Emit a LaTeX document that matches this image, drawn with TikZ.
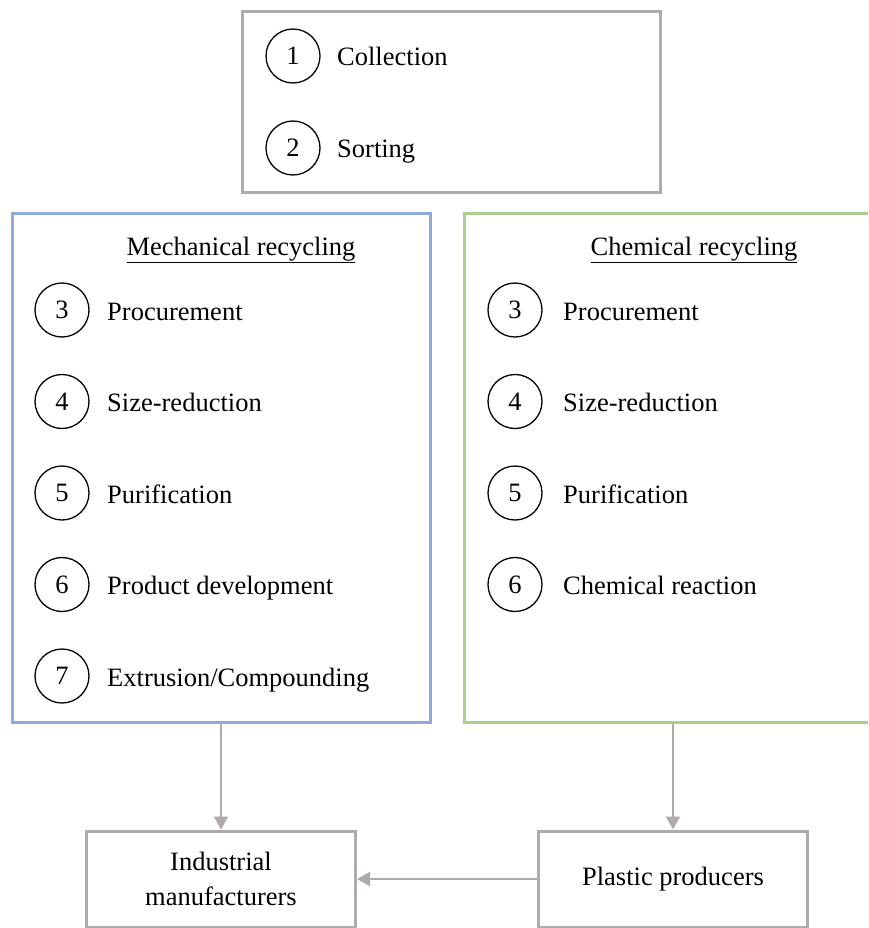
\documentclass[tikz,border=0pt]{standalone}
\usepackage{fontspec}
\setmainfont{Liberation Serif}
\usetikzlibrary{arrows.meta}
\definecolor{framegray}{RGB}{175,171,171}
\definecolor{mechblue}{RGB}{143,170,220}
\definecolor{chemgreen}{RGB}{169,209,142}
\newcommand{\diagfont}{\fontsize{26.5}{35}\selectfont}
\begin{document}
\begin{tikzpicture}[x=1pt,y=-1pt,
  panel/.style={draw=#1, line width=3pt, inner sep=0pt, fill=white},
  num/.style={circle, draw=black, line width=1.3pt, minimum size=54pt, inner sep=0pt, font=\diagfont},
  lbl/.style={anchor=base west, inner sep=0pt, font=\diagfont},
  heading/.style={anchor=base, inner sep=0pt, font=\diagfont},
  boxtext/.style={align=center, font=\diagfont},
  flow/.style={draw=framegray, line width=2pt, -{Triangle[length=13pt,width=14pt]}}]
\useasboundingbox (0,0) rectangle (868,928);
\clip (0,0) rectangle (868,928);

% frames
\node[panel=framegray, minimum width=418pt, minimum height=180pt] (top) at (451,102) {};
\node[panel=mechblue, minimum width=418pt, minimum height=509pt] (mech) at (221,467.5) {};
\node[panel=chemgreen, minimum width=418pt, minimum height=509pt] (chem) at (673,467.5) {};
\node[panel=framegray, minimum width=269pt, minimum height=96pt, boxtext] (ind) at (221,879) {Industrial\\manufacturers};
\node[panel=framegray, minimum width=269pt, minimum height=96pt, boxtext] (plas) at (673,879) {Plastic producers};

% common steps
\node[num] (c1) at (293,56) {1};
\node[lbl] (t1) at (337,66) {Collection};
\node[num] (c2) at (293,148) {2};
\node[lbl] (t2) at (337,158) {Sorting};

% mechanical recycling
\node[heading] (mtitle) at (241,255) {\underline{Mechanical recycling}};
\foreach \n/\y/\txt in {3/310/{Procurement}, 4/401.5/{Size-reduction}, 5/493/{Purification}, 6/584.5/{Product development}, 7/676/{Extrusion/Compounding}}{
  \node[num] (m\n) at (62,\y) {\n};
  \node[lbl] (mt\n) at (107,\y+10) {\txt};
}

% chemical recycling
\node[heading] (ctitle) at (694,255) {\underline{Chemical recycling}};
\foreach \n/\y/\txt in {3/310/{Procurement}, 4/401.5/{Size-reduction}, 5/493/{Purification}, 6/584.5/{Chemical reaction}}{
  \node[num] (k\n) at (515,\y) {\n};
  \node[lbl] (kt\n) at (563,\y+10) {\txt};
}

% connectors
\draw[flow] (mech.south) -- (ind.north);
\draw[flow] (chem.south) -- (plas.north);
\draw[flow] (plas.west) -- (ind.east);
\end{tikzpicture}
\end{document}
